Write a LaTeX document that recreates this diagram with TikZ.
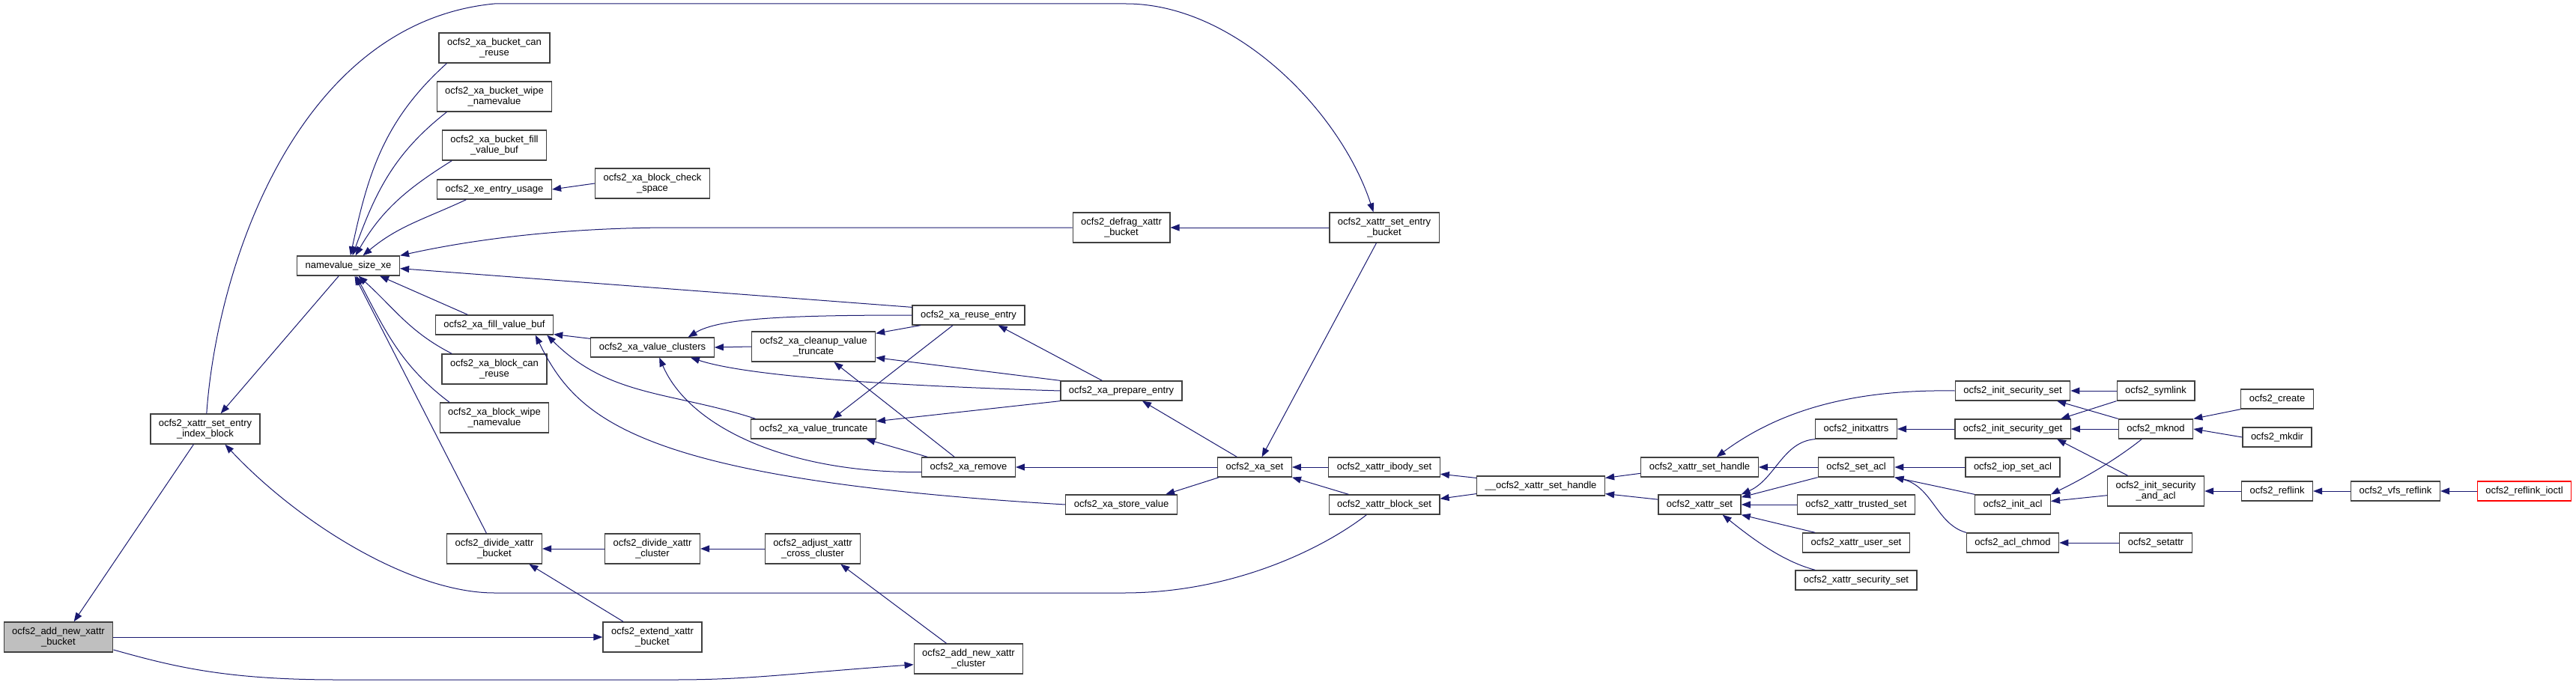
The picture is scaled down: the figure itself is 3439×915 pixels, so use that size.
\documentclass[tikz,border=0pt]{standalone}
\usepackage{fontspec}
\setmainfont{Liberation Sans}
\usepackage{tikz}
\usetikzlibrary{arrows.meta}
\definecolor{EdgeBlue}{RGB}{25,25,112}
\definecolor{BoxLine}{RGB}{64,64,64}
\definecolor{RootGray}{RGB}{191,191,191}
\definecolor{LinkRed}{RGB}{255,0,0}

\begin{document}
\begin{tikzpicture}[x=1pt,y=1pt,
    fn/.style={draw=BoxLine,line width=1.3pt,fill=white,inner xsep=11pt,inner ysep=2pt,
      minimum height=26pt,align=center,font=\fontsize{13}{14.5}\selectfont},
    fn2/.style={fn,minimum height=40pt},
    rootfn/.style={fn2,fill=RootGray},
    calls/.style={draw=EdgeBlue,line width=1pt,{Triangle[length=12pt,width=9pt]}-}]
  \useasboundingbox (0,0) rectangle (3439,-915);

  % root and first callers
  \node[rootfn] (bucket) at (78,-851) {ocfs2\_add\_new\_xattr\\\_bucket};
  \node[fn2] (idxblock) at (274,-573) {ocfs2\_xattr\_set\_entry\\\_index\_block};
  \node[fn] (nvsize) at (465,-355) {namevalue\_size\_xe};

  % column 1
  \node[fn2] (bcanreuse) at (660,-64) {ocfs2\_xa\_bucket\_can\\\_reuse};
  \node[fn2] (bwipe) at (660,-129) {ocfs2\_xa\_bucket\_wipe\\\_namevalue};
  \node[fn2] (bfill) at (660,-194) {ocfs2\_xa\_bucket\_fill\\\_value\_buf};
  \node[fn] (entryusage) at (660,-253) {ocfs2\_xe\_entry\_usage};
  \node[fn] (fillbuf) at (660,-434) {ocfs2\_xa\_fill\_value\_buf};
  \node[fn2] (blkcanreuse) at (660,-493) {ocfs2\_xa\_block\_can\\\_reuse};
  \node[fn2] (blkwipe) at (660,-558) {ocfs2\_xa\_block\_wipe\\\_namevalue};
  \node[fn2] (divbucket) at (660,-733) {ocfs2\_divide\_xattr\\\_bucket};

  % column 2
  \node[fn2] (checkspace) at (871,-245) {ocfs2\_xa\_block\_check\\\_space};
  \node[fn] (valclusters) at (871,-464) {ocfs2\_xa\_value\_clusters};
  \node[fn2] (divcluster) at (871,-733) {ocfs2\_divide\_xattr\\\_cluster};
  \node[fn2] (extbucket) at (871,-851) {ocfs2\_extend\_xattr\\\_bucket};

  % column 3
  \node[fn2] (cleanup) at (1086,-463) {ocfs2\_xa\_cleanup\_value\\\_truncate};
  \node[fn] (valtrunc) at (1086,-573) {ocfs2\_xa\_value\_truncate};
  \node[fn2] (adjust) at (1085,-733) {ocfs2\_adjust\_xattr\\\_cross\_cluster};

  % column 4
  \node[fn] (reuse) at (1293,-421) {ocfs2\_xa\_reuse\_entry};
  \node[fn] (remove) at (1293,-624) {ocfs2\_xa\_remove};
  \node[fn2] (addcluster) at (1293,-880) {ocfs2\_add\_new\_xattr\\\_cluster};

  % column 5
  \node[fn2] (defrag) at (1497,-304) {ocfs2\_defrag\_xattr\\\_bucket};
  \node[fn] (prepare) at (1497,-522) {ocfs2\_xa\_prepare\_entry};
  \node[fn] (storeval) at (1497,-674) {ocfs2\_xa\_store\_value};
  \node[fn] (xaset) at (1675,-624) {ocfs2\_xa\_set};

  % column 6 and 7
  \node[fn2] (entrybucket) at (1848,-304) {ocfs2\_xattr\_set\_entry\\\_bucket};
  \node[fn] (ibodyset) at (1848,-624) {ocfs2\_xattr\_ibody\_set};
  \node[fn] (blockset) at (1848,-674) {ocfs2\_xattr\_block\_set};
  \node[fn] (sethandleint) at (2057,-649) {\_\_ocfs2\_xattr\_set\_handle};
  \node[fn] (sethandle) at (2269,-624) {ocfs2\_xattr\_set\_handle};
  \node[fn] (xattrset) at (2269,-674) {ocfs2\_xattr\_set};

  % column 8
  \node[fn] (initxattrs) at (2478,-573) {ocfs2\_initxattrs};
  \node[fn] (setacl) at (2478,-624) {ocfs2\_set\_acl};
  \node[fn] (trustedset) at (2478,-674) {ocfs2\_xattr\_trusted\_set};
  \node[fn] (userset) at (2478,-725) {ocfs2\_xattr\_user\_set};
  \node[fn] (securityset) at (2478,-775) {ocfs2\_xattr\_security\_set};

  % column 9
  \node[fn] (secset) at (2687,-522) {ocfs2\_init\_security\_set};
  \node[fn] (secget) at (2687,-573) {ocfs2\_init\_security\_get};
  \node[fn] (iopsetacl) at (2687,-624) {ocfs2\_iop\_set\_acl};
  \node[fn] (initacl) at (2687,-674) {ocfs2\_init\_acl};
  \node[fn] (aclchmod) at (2687,-725) {ocfs2\_acl\_chmod};

  % column 10
  \node[fn] (symlink) at (2878,-522) {ocfs2\_symlink};
  \node[fn] (mknod) at (2878,-573) {ocfs2\_mknod};
  \node[fn2] (secandacl) at (2878,-656) {ocfs2\_init\_security\\\_and\_acl};
  \node[fn] (setattr) at (2878,-725) {ocfs2\_setattr};

  % reflink chain
  \node[fn] (create) at (3040,-533) {ocfs2\_create};
  \node[fn] (mkdir) at (3040,-584) {ocfs2\_mkdir};
  \node[fn] (reflink) at (3040,-656) {ocfs2\_reflink};
  \node[fn] (vfsreflink) at (3198,-656) {ocfs2\_vfs\_reflink};
  \node[fn,draw=LinkRed] (ioctl) at (3370,-656) {ocfs2\_reflink\_ioctl};

  % calls into namevalue_size_xe
  \draw[calls] (nvsize.78) to[out=78,in=222] (bcanreuse.-162);
  \draw[calls] (nvsize.68) to[out=70,in=218] (bwipe.-162);
  \draw[calls] (nvsize.55) to[out=60,in=212] (bfill.-160);
  \draw[calls] (nvsize.35) to[out=40,in=205] (entryusage.-160);
  \draw[calls] (nvsize.north east) .. controls (640,-318) and (760,-304) .. (900,-304) -- (defrag.west);
  \draw[calls] (nvsize.-3) -- (reuse.172);
  \draw[calls] (nvsize.-18) -- (fillbuf.159);
  \draw[calls] (nvsize.-45) to[out=-42,in=153] (blkcanreuse.160);
  \draw[calls] (nvsize.-52) to[out=-62,in=143] (blkwipe.161);
  \draw[calls] (nvsize.-58) -- (divbucket.117);
  \draw[calls] (idxblock.45) -- (nvsize.-133);

  % root side
  \draw[calls] (bucket.45) -- (idxblock.-127);
  \draw[calls] (extbucket.west) -- (bucket.east);
  \draw[calls] (addcluster.186) .. controls (1050,-900) and (1000,-908) .. (900,-908)
    -- (450,-908) .. controls (300,-908) and (230,-890) .. (bucket.-13);
  \draw[calls] (entrybucket.125) .. controls (1790,-150) and (1650,-5) .. (1503,-5)
    -- (660,-5) .. controls (400,-30) and (290,-350) .. (idxblock.85);
  \draw[calls] (idxblock.-38) .. controls (400,-700) and (550,-792) .. (660,-792)
    -- (1500,-792) .. controls (1650,-792) and (1770,-730) .. (blockset.-150);
  \draw[calls] (divbucket.-24) -- (extbucket.152);
  \draw[calls] (divbucket.east) -- (divcluster.west);
  \draw[calls] (divcluster.east) -- (adjust.west);
  \draw[calls] (adjust.-29) -- (addcluster.145);

  % value helpers
  \draw[calls] (entryusage.east) -- (checkspace.west);
  \draw[calls] (fillbuf.-9) -- (valclusters.172);
  \draw[calls] (fillbuf.-11) to[out=-45,in=162] (valtrunc.170);
  \draw[calls] (fillbuf.-14) .. controls (770,-560) and (850,-640) .. (storeval.west);
  \draw[calls] (valclusters.east) -- (cleanup.west);
  \draw[calls] (valclusters.16) .. controls (960,-425) and (1050,-421) .. (reuse.west);
  \draw[calls] (valclusters.-15) .. controls (990,-500) and (1150,-514) .. (prepare.west);
  \draw[calls] (valclusters.-56) .. controls (920,-570) and (1050,-632) .. (remove.-174);
  \draw[calls] (cleanup.12) -- (reuse.-168);
  \draw[calls] (cleanup.-10) -- (prepare.north west);
  \draw[calls] (cleanup.-37) -- (remove.144);
  \draw[calls] (valtrunc.28) -- (reuse.-147);
  \draw[calls] (valtrunc.7) -- (prepare.south west);
  \draw[calls] (valtrunc.-11) -- (remove.166);
  \draw[calls] (reuse.-19) -- (prepare.152);

  % ocfs2_xa_set and its callers
  \draw[calls] (prepare.-26) -- (xaset.150);
  \draw[calls] (remove.east) -- (xaset.west);
  \draw[calls] (storeval.13) -- (xaset.-164);
  \draw[calls] (xaset.55) -- (entrybucket.-117);
  \draw[calls] (xaset.east) -- (ibodyset.west);
  \draw[calls] (xaset.south east) -- (blockset.164);
  \draw[calls] (defrag.east) -- (entrybucket.west);
  \draw[calls] (ibodyset.-7) -- (sethandleint.173);
  \draw[calls] (blockset.6) -- (sethandleint.-173);
  \draw[calls] (sethandleint.7) -- (sethandle.-174);
  \draw[calls] (sethandleint.-7) -- (xattrset.173);

  % xattr set handle / xattr set
  \draw[calls] (sethandle.31) .. controls (2380,-545) and (2480,-520) .. (secset.west);
  \draw[calls] (sethandle.east) -- (setacl.west);
  \draw[calls] (xattrset.north east) .. controls (2370,-640) and (2380,-590) .. (initxattrs.south west);
  \draw[calls] (xattrset.10) -- (setacl.south west);
  \draw[calls] (xattrset.east) -- (trustedset.west);
  \draw[calls] (xattrset.south east) -- (userset.166);
  \draw[calls] (xattrset.-24) .. controls (2340,-720) and (2380,-750) .. (securityset.166);

  % security and acl
  \draw[calls] (initxattrs.east) -- (secget.west);
  \draw[calls] (setacl.east) -- (iopsetacl.west);
  \draw[calls] (setacl.south east) -- (initacl.north west);
  \draw[calls] (setacl.south east) .. controls (2580,-650) and (2585,-700) .. (aclchmod.north west);
  \draw[calls] (secset.east) -- (symlink.west);
  \draw[calls] (secset.-13) -- (mknod.north west);
  \draw[calls] (secget.12) -- (symlink.south west);
  \draw[calls] (secget.east) -- (mknod.west);
  \draw[calls] (secget.-13) -- (secandacl.151);
  \draw[calls] (initacl.north east) .. controls (2790,-635) and (2830,-610) .. (mknod.-144);
  \draw[calls] (initacl.5) -- (secandacl.-175);
  \draw[calls] (aclchmod.east) -- (setattr.west);

  % vfs entry points
  \draw[calls] (mknod.north east) -- (create.south west);
  \draw[calls] (mknod.east) -- (mkdir.west);
  \draw[calls] (secandacl.east) -- (reflink.west);
  \draw[calls] (reflink.east) -- (vfsreflink.west);
  \draw[calls] (vfsreflink.east) -- (ioctl.west);
\end{tikzpicture}
\end{document}
